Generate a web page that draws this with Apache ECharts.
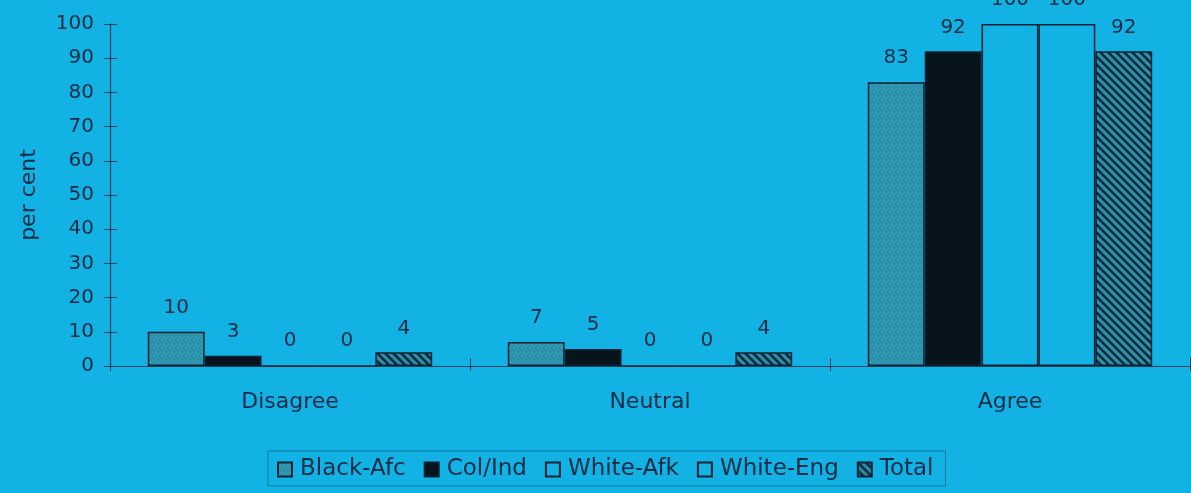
<!DOCTYPE html>
<html>
<head>
<meta charset="utf-8">
<title>Agreement by group</title>
<script src="https://cdn.jsdelivr.net/npm/echarts@6/dist/echarts.min.js"></script>
<style>
  html, body { margin: 0; padding: 0; background: #12b2e4; }
  #chart { width: 1191px; height: 493px; }
</style>
</head>
<body>
<div id="chart"></div>
<script>
// Response categories and the share (per cent) of each group giving them
const categories = ['Disagree', 'Neutral', 'Agree'];
const groupNames = ['Black-Afc', 'Col/Ind', 'White-Afk', 'White-Eng', 'Total'];
const blackAfc = [10, 7, 83];
const colInd = [3, 5, 92];
const whiteAfk = [0, 0, 100];
const whiteEng = [0, 0, 100];
const total = [4, 4, 92];
const yMin = 0, yMax = 100, yStep = 10;

const BG = '#12b2e4';
const INK = '#0e2c45';
const EDGE = '#0b2233';
const FONT = 'DejaVu Sans';

// Mottled teal fill for the Black-Afc bars
function speckleTile() {
  const c = document.createElement('canvas');
  c.width = 8; c.height = 8;
  const g = c.getContext('2d');
  g.fillStyle = '#2e97b0';
  g.fillRect(0, 0, 8, 8);
  g.fillStyle = '#22809a';
  [[1,1],[5,0],[3,3],[7,4],[0,5],[4,6],[6,7],[2,7]].forEach(p => g.fillRect(p[0], p[1], 1, 1));
  g.fillStyle = '#3ea8bf';
  [[3,0],[6,2],[1,4],[5,5],[2,2]].forEach(p => g.fillRect(p[0], p[1], 1, 1));
  return c;
}

// Diagonal hatch fill for the Total bars
function hatchTile() {
  const s = 8;
  const c = document.createElement('canvas');
  c.width = s; c.height = s;
  const g = c.getContext('2d');
  g.fillStyle = '#2b8fa9';
  g.fillRect(0, 0, s, s);
  g.strokeStyle = '#0d2736';
  g.lineWidth = 2.4;
  g.beginPath();
  g.moveTo(-1, -1); g.lineTo(s + 1, s + 1);
  g.moveTo(-1, s - 1); g.lineTo(1, s + 1);
  g.moveTo(s - 1, -1); g.lineTo(s + 1, 1);
  g.stroke();
  return c;
}

const fills = [
  { image: speckleTile(), repeat: 'repeat' },
  '#08141c',
  BG,
  BG,
  { image: hatchTile(), repeat: 'repeat' }
];
const values = [blackAfc, colInd, whiteAfk, whiteEng, total];

const series = groupNames.map((name, i) => ({
  name: name,
  type: 'bar',
  data: values[i],
  barGap: '0%',
  barCategoryGap: '21%',
  itemStyle: { color: fills[i], borderColor: EDGE, borderWidth: 1.5 },
  label: {
    show: true,
    position: 'top',
    distance: 14,
    color: INK,
    fontFamily: FONT,
    fontSize: 20
  }
}));

const chart = echarts.init(document.getElementById('chart'), null, { renderer: 'canvas' });
chart.setOption({
  backgroundColor: BG,
  animation: false,
  grid: { left: 110, right: 1, top: 24, bottom: 127, containLabel: false },
  legend: {
    data: groupNames.map(n => ({ name: n, icon: 'rect' })),
    left: 268,
    top: 451,
    itemWidth: 14,
    itemHeight: 14,
    itemGap: 18,
    padding: [7, 12, 5, 9],
    borderColor: 'rgba(10,36,56,0.4)',
    borderWidth: 1,
    textStyle: { color: INK, fontFamily: FONT, fontSize: 23, padding: [0, 0, 0, 3] }
  },
  xAxis: [
    {
      type: 'category',
      data: categories,
      axisLine: { show: true, lineStyle: { color: '#1b3f55', width: 1.2 } },
      axisTick: { show: true, length: 5, lineStyle: { color: '#1b3f55' } },
      axisLabel: { color: INK, fontFamily: FONT, fontSize: 22, margin: 25 }
    },
    {
      type: 'category',
      data: categories,
      position: 'bottom',
      axisLine: { show: false },
      axisTick: { show: true, inside: true, length: 8, lineStyle: { color: '#1b3f55' } },
      axisLabel: { show: false }
    }
  ],
  yAxis: [
    {
      type: 'value',
      min: yMin,
      max: yMax,
      interval: yStep,
      name: 'per cent',
      nameLocation: 'middle',
      nameRotate: 90,
      nameGap: 70,
      nameTextStyle: { color: INK, fontFamily: FONT, fontSize: 22 },
      axisLine: { show: true, lineStyle: { color: '#1b3f55', width: 1.2 } },
      axisTick: { show: true, length: 6, lineStyle: { color: '#1b3f55' } },
      axisLabel: { color: INK, fontFamily: FONT, fontSize: 20, margin: 16 },
      splitLine: { show: false }
    },
    {
      type: 'value',
      min: yMin,
      max: yMax,
      interval: yStep,
      position: 'left',
      axisLine: { show: false },
      axisTick: { show: true, inside: true, length: 7, lineStyle: { color: '#1b3f55' } },
      axisLabel: { show: false },
      splitLine: { show: false }
    }
  ],
  series: series
});
</script>
</body>
</html>
